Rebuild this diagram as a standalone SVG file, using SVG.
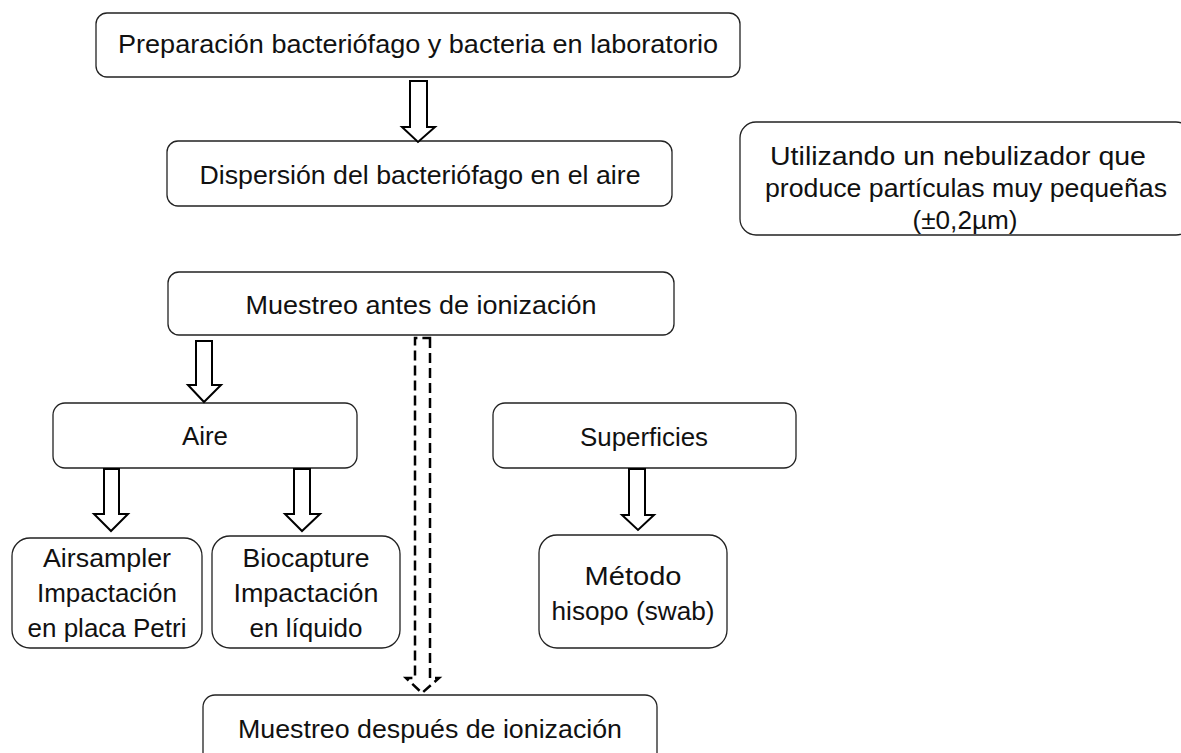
<svg xmlns="http://www.w3.org/2000/svg" width="1181" height="753" viewBox="0 0 1181 753">
<style>
.box{fill:#fff;stroke:#222;stroke-width:1.3}
.t{font-family:"Liberation Sans",Arial,sans-serif;font-size:26px;fill:#111;text-anchor:middle}
.arr{fill:#fff;stroke:#000;stroke-width:2;stroke-linejoin:miter}
.dash{fill:none;stroke:#000;stroke-width:2.5;stroke-dasharray:10 5}
</style>
<rect width="1181" height="753" fill="#fff"/>
<g id="n1"><rect class="box" x="96" y="13" width="644" height="64" rx="11"/><text class="t" x="418" y="53" textLength="600" lengthAdjust="spacingAndGlyphs">Preparación bacteriófago y bacteria en laboratorio</text></g>
<g id="n2"><rect class="box" x="167" y="141" width="505" height="65" rx="11"/><text class="t" x="420" y="184" textLength="441" lengthAdjust="spacingAndGlyphs">Dispersión del bacteriófago en el aire</text></g>
<g id="n3"><rect class="box" x="740" y="122" width="452" height="113" rx="16"/><text class="t" x="958" y="165" textLength="376" lengthAdjust="spacingAndGlyphs">Utilizando un nebulizador que</text><text class="t" x="966" y="197" textLength="402" lengthAdjust="spacingAndGlyphs">produce partículas muy pequeñas</text><text class="t" x="965" y="229" textLength="105" lengthAdjust="spacingAndGlyphs">(±0,2µm)</text></g>
<g id="n4"><rect class="box" x="168" y="272" width="506" height="63" rx="11"/><text class="t" x="421" y="314" textLength="351" lengthAdjust="spacingAndGlyphs">Muestreo antes de ionización</text></g>
<g id="n5"><rect class="box" x="53" y="403" width="304" height="65" rx="12"/><text class="t" x="205" y="445" textLength="46" lengthAdjust="spacingAndGlyphs">Aire</text></g>
<g id="n6"><rect class="box" x="493" y="403" width="303" height="65" rx="12"/><text class="t" x="644" y="446" textLength="128" lengthAdjust="spacingAndGlyphs">Superficies</text></g>
<g id="n7"><rect class="box" x="12" y="538" width="190" height="110" rx="18"/><text class="t" x="107" y="567" textLength="128" lengthAdjust="spacingAndGlyphs">Airsampler</text><text class="t" x="107" y="602" textLength="140" lengthAdjust="spacingAndGlyphs">Impactación</text><text class="t" x="107" y="637">en placa Petri</text></g>
<g id="n8"><rect class="box" x="212" y="536" width="188" height="112" rx="18"/><text class="t" x="306" y="567" textLength="127" lengthAdjust="spacingAndGlyphs">Biocapture</text><text class="t" x="306" y="602" textLength="145" lengthAdjust="spacingAndGlyphs">Impactación</text><text class="t" x="306" y="637">en líquido</text></g>
<g id="n9"><rect class="box" x="539" y="535" width="188" height="113" rx="18"/><text class="t" x="633" y="585" textLength="97" lengthAdjust="spacingAndGlyphs">Método</text><text class="t" x="633" y="620" textLength="163" lengthAdjust="spacingAndGlyphs">hisopo (swab)</text></g>
<g id="n10"><rect class="box" x="203" y="695" width="454" height="80" rx="12"/><text class="t" x="430" y="738" textLength="384" lengthAdjust="spacingAndGlyphs">Muestreo después de ionización</text></g>
<g id="connectors">
<path class="arr" d="M410,81 L427,81 L427,127 L435,127 L418,142 L402,127 L410,127 Z"/>
<path class="arr" d="M196,341 L212,341 L212,385 L221,385 L204,402 L188,385 L196,385 Z"/>
<path class="arr" d="M104,469 L119,469 L119,514 L128,514 L111,531 L94,514 L104,514 Z"/>
<path class="arr" d="M294,469 L310,469 L310,514 L320,514 L302,531 L285,514 L294,514 Z"/>
<path class="arr" d="M629,469 L645,469 L645,515 L654,515 L638,530 L622,515 L629,515 Z"/>
<path class="dash" d="M430,338 L430,678 L439,678 L422,693 L406,678 L415,678 L415,338 Z"/>
</g>
</svg>
